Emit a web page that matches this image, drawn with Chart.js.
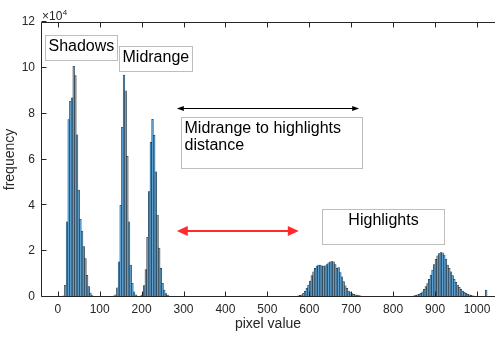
<!DOCTYPE html>
<html lang="en">
<head>
  <meta charset="UTF-8" />
  <title>Pixel value histogram</title>
  <script src="https://cdn.jsdelivr.net/npm/chart.js"></script>
  <style>
    body { margin: 0; background: #fff; }
    .chart-wrapper { width: 502px; height: 337px; position: relative; }
  </style>
</head>
<body>

<div class="chart-wrapper">
  <canvas id="histChart"></canvas>
</div>

<script>
  // histogram counts, in units of 10^4, bins are 4 pixel values wide
  const binWidth = 4;

  const shadowStart = 8;
  const shadowCounts = [0.02, 0.05, 0.51, 3.28, 7.74, 8.54, 8.69, 10.07, 9.66, 7.08,
                        4.67, 3.39, 2.88, 2.2, 1.68, 0.95, 0.45, 0.17, 0.06, 0.03,
                        0.02, 0.02, 0.02, 0.02, 0.02, 0.02, 0.02, 0.02, 0.02, 0.02, 0.03, 0.05];

  const midStart = 136;
  const midCounts = [0.09, 0.4, 1.54, 4.0, 7.4, 9.68, 9.0, 6.14, 3.28, 1.39,
                     0.6, 0.23, 0.09, 0.04, 0.03, 0.05, 0.09, 0.5, 1.2, 2.6,
                     4.6, 6.75, 7.75, 7.06, 5.46, 3.57, 2.14, 1.25, 0.6, 0.3,
                     0.15, 0.08, 0.04, 0.02, 0.02, 0.01];

  const highStart = 564;
  const highCounts = [0.02, 0.03, 0.05, 0.07, 0.09, 0.16, 0.26, 0.38, 0.52, 0.7,
                      0.93, 1.1, 1.25, 1.35, 1.39, 1.39, 1.36, 1.35, 1.36, 1.42,
                      1.49, 1.54, 1.55, 1.54, 1.42, 1.25, 1.28, 1.07, 0.88, 0.67,
                      0.49, 0.38, 0.26, 0.19, 0.15, 0.12, 0.1, 0.08, 0.06, 0.05,
                      0.03, 0.02, 0.01];

  const brightStart = 840;
  const brightCounts = [0.02, 0.03, 0.05, 0.07, 0.09, 0.12, 0.16, 0.23, 0.33, 0.45,
                        0.59, 0.77, 0.96, 1.17, 1.42, 1.64, 1.8, 1.9, 1.94, 1.93,
                        1.83, 1.65, 1.39, 1.25, 1.1, 0.93, 0.77, 0.64, 0.52, 0.42,
                        0.33, 0.26, 0.2, 0.16, 0.12, 0.1, 0.07, 0.05, 0.04, 0.03,
                        0.02, 0.01];

  const outlierStart = 1020;
  const outlierCounts = [0.3];

  const xTicks = [0, 100, 200, 300, 400, 500, 600, 700, 800, 900, 1000];
  const yTicks = [0, 2, 4, 6, 8, 10, 12];

  // text boxes: [left, right, top, bottom] in data units
  const textBoxes = [
    { lines: ["Shadows"], box: [-30.5, 141, 11.43, 10.34], align: "left" },
    { lines: ["Midrange"], box: [146, 320, 10.95, 9.86], align: "left" },
    { lines: ["Midrange to highlights", "distance"], box: [294, 726, 7.85, 5.63], align: "left" },
    { lines: ["Highlights"], box: [630, 921, 3.84, 2.31], align: "center" }
  ];

  // double arrows: [x from, x to, y]
  const arrows = [
    { span: [284, 719, 8.25], color: "#000000", width: 1, head: 7, half: 2.5 },
    { span: [284, 575, 2.88], color: "#ff2a2a", width: 2, head: 11, half: 5 }
  ];

  const axisColor = "#262626";
  const fontName = "'Liberation Sans', Arial, sans-serif";

  function toPoints(start, counts) {
    return counts.map((c, i) => ({ x: start + i * binWidth + binWidth / 2, y: c }));
  }

  const points = [].concat(
    toPoints(shadowStart, shadowCounts),
    toPoints(midStart, midCounts),
    toPoints(highStart, highCounts),
    toPoints(brightStart, brightCounts),
    toPoints(outlierStart, outlierCounts)
  );

  // MATLAB-ish axes (the right side is cropped off in the original), inward ticks, x10^4
  const matlabFrame = {
    id: "matlabFrame",
    afterDraw(chart) {
      const { ctx, chartArea: a, scales: { x, y } } = chart;
      const tl = 5;
      const L = Math.round(a.left) + 0.5;
      const T = Math.round(a.top) + 0.5;
      const B = Math.round(a.bottom) - 0.5;
      ctx.save();
      ctx.strokeStyle = axisColor;
      ctx.lineWidth = 1;
      ctx.beginPath();
      ctx.moveTo(a.right, T); ctx.lineTo(L, T); ctx.lineTo(L, B); ctx.lineTo(a.right, B);
      xTicks.forEach(v => {
        const px = Math.round(x.getPixelForValue(v)) + 0.5;
        ctx.moveTo(px, B); ctx.lineTo(px, B - tl);
        ctx.moveTo(px, T); ctx.lineTo(px, T + tl);
      });
      yTicks.forEach(v => {
        const py = Math.round(y.getPixelForValue(v)) - 0.5;
        ctx.moveTo(L, py); ctx.lineTo(L + tl, py);
      });
      ctx.stroke();

      ctx.fillStyle = axisColor;
      ctx.textBaseline = "alphabetic";
      ctx.textAlign = "left";
      ctx.font = "12px " + fontName;
      ctx.fillText("\u00d710", a.left + 1, a.top - 2);
      const w = ctx.measureText("\u00d710").width;
      ctx.font = "8px " + fontName;
      ctx.fillText("4", a.left + 1 + w + 0.5, a.top - 7);
      ctx.restore();
    }
  };

  const annotations = {
    id: "annotations",
    afterDraw(chart) {
      const { ctx, scales: { x, y } } = chart;
      ctx.save();

      textBoxes.forEach(t => {
        const l = Math.round(x.getPixelForValue(t.box[0])) + 0.5;
        const r = Math.round(x.getPixelForValue(t.box[1])) + 0.5;
        const tp = Math.round(y.getPixelForValue(t.box[2])) + 0.5;
        const bt = Math.round(y.getPixelForValue(t.box[3])) + 0.5;
        ctx.strokeStyle = "#bdbdbd";
        ctx.lineWidth = 1;
        ctx.strokeRect(l, tp, r - l, bt - tp);
        ctx.fillStyle = "#000";
        ctx.font = "16px " + fontName;
        ctx.textBaseline = "middle";
        ctx.textAlign = t.align;
        const tx = t.align === "center" ? (l + r) / 2 : l + 3;
        t.lines.forEach((line, i) => ctx.fillText(line, tx, tp + 11 + i * 17));
      });

      arrows.forEach(ar => {
        const x0 = x.getPixelForValue(ar.span[0]);
        const x1 = x.getPixelForValue(ar.span[1]);
        const py = Math.round(y.getPixelForValue(ar.span[2])) + (ar.width % 2 ? 0.5 : 0);
        ctx.strokeStyle = ar.color;
        ctx.fillStyle = ar.color;
        ctx.lineWidth = ar.width;
        ctx.beginPath();
        ctx.moveTo(x0 + ar.head - 1, py);
        ctx.lineTo(x1 - ar.head + 1, py);
        ctx.stroke();
        ctx.beginPath();
        ctx.moveTo(x0, py);
        ctx.lineTo(x0 + ar.head, py - ar.half);
        ctx.lineTo(x0 + ar.head, py + ar.half);
        ctx.closePath();
        ctx.moveTo(x1, py);
        ctx.lineTo(x1 - ar.head, py - ar.half);
        ctx.lineTo(x1 - ar.head, py + ar.half);
        ctx.closePath();
        ctx.fill();
      });
      ctx.restore();
    }
  };

  const ctx = document.getElementById("histChart").getContext("2d");

  new Chart(ctx, {
    type: "bar",
    data: {
      datasets: [{
        data: points,
        backgroundColor: "#5d9fce",
        borderColor: "#1e1e1e",
        borderWidth: 0.5,
        borderSkipped: "start",
        barPercentage: 1,
        categoryPercentage: 1
      }]
    },
    options: {
      responsive: true,
      maintainAspectRatio: false,
      animation: false,
      layout: { padding: { top: 22, right: 7, left: 0, bottom: 0 } },
      plugins: {
        legend: { display: false },
        tooltip: { enabled: false }
      },
      scales: {
        x: {
          type: "linear",
          offset: false,
          min: -40,
          max: 1043,
          afterFit: s => { s.height = 40; },
          afterBuildTicks: s => { s.ticks = xTicks.map(v => ({ value: v })); },
          grid: { display: false, drawTicks: false, offset: false },
          border: { display: false },
          ticks: {
            padding: 5,
            maxRotation: 0,
            autoSkip: false,
            color: axisColor,
            font: { family: fontName, size: 12 },
            callback: v => String(v)
          },
          title: {
            display: true,
            text: "pixel value",
            color: axisColor,
            padding: { top: 0, bottom: 4 },
            font: { family: fontName, size: 14 }
          }
        },
        y: {
          min: 0,
          max: 12,
          afterFit: s => { s.width = 41; },
          afterBuildTicks: s => { s.ticks = yTicks.map(v => ({ value: v })); },
          grid: { display: false, drawTicks: false },
          border: { display: false },
          ticks: {
            padding: 6,
            color: axisColor,
            font: { family: fontName, size: 12 },
            callback: v => String(v)
          },
          title: {
            display: true,
            text: "frequency",
            color: axisColor,
            padding: { top: 2, bottom: 0 },
            font: { family: fontName, size: 14 }
          }
        }
      }
    },
    plugins: [matlabFrame, annotations]
  });
</script>
</body>
</html>
